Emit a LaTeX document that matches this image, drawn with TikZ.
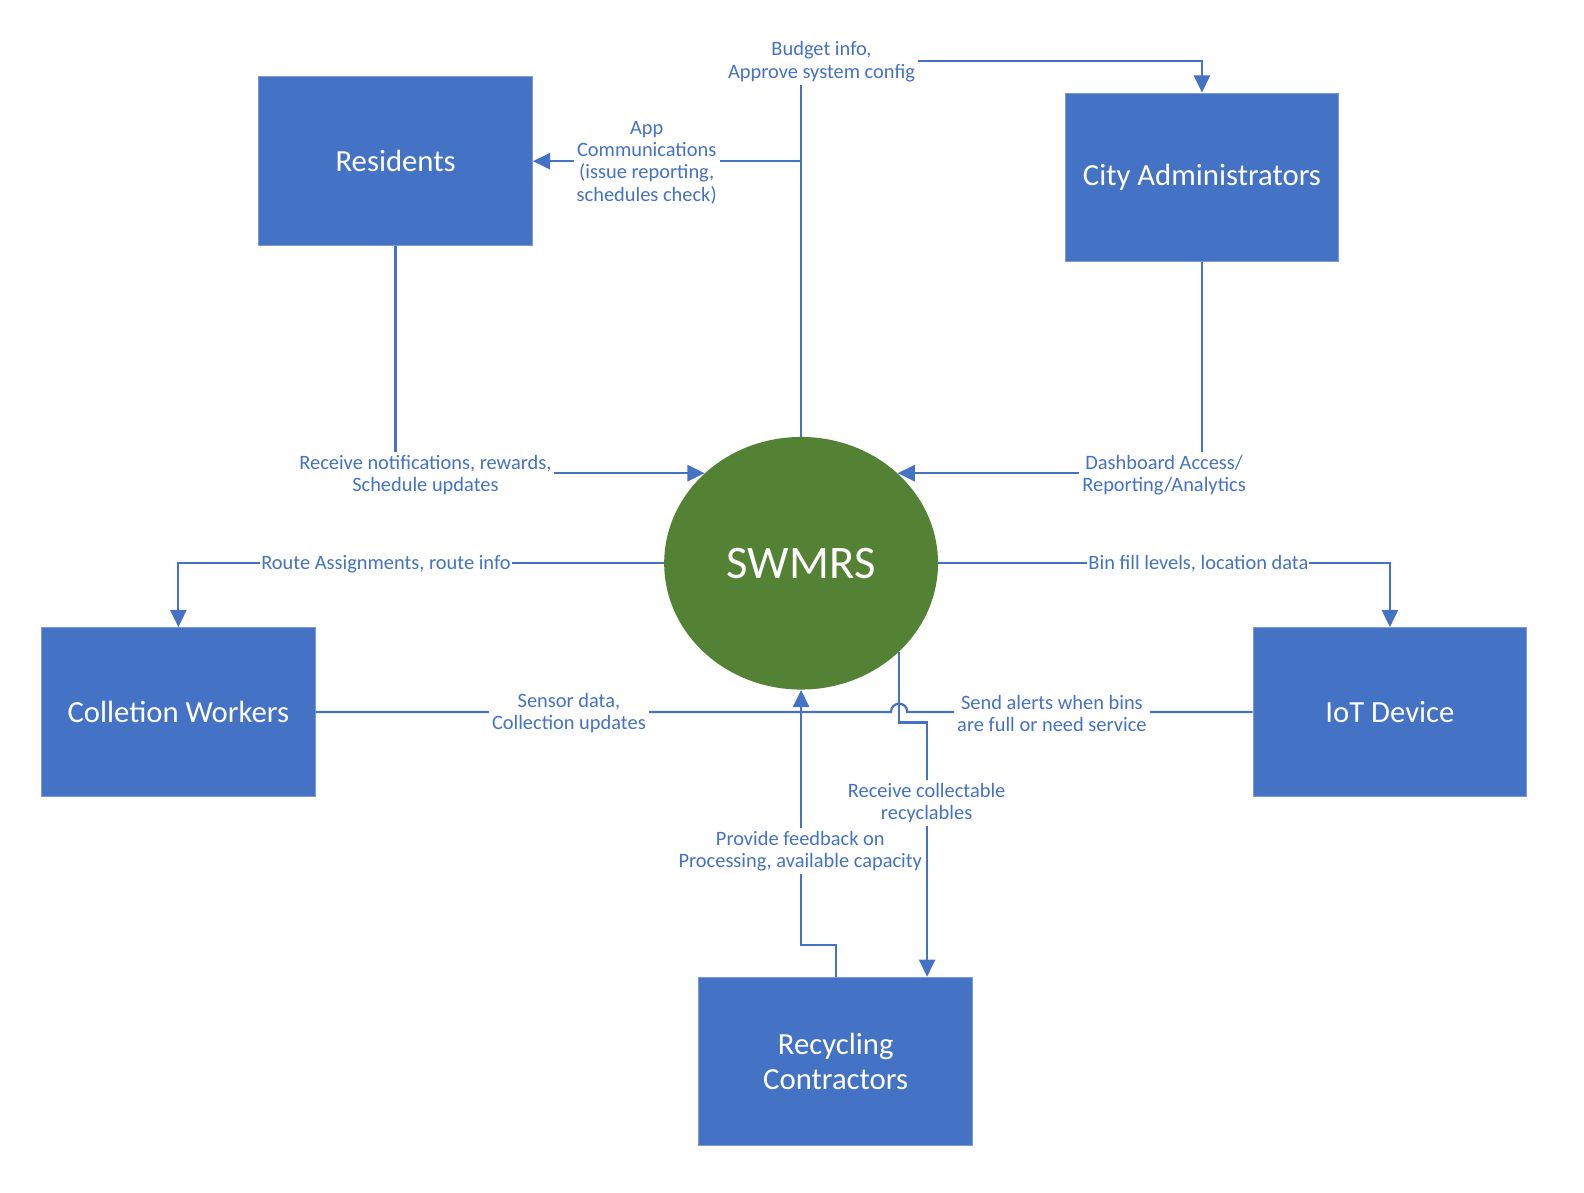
\documentclass[tikz,border=0pt]{standalone}
\usepackage{fontspec}
\setmainfont{Carlito}
\usetikzlibrary{arrows.meta,shapes.geometric}
\definecolor{boxblue}{HTML}{4472C4}
\definecolor{boxedge}{HTML}{7C9BD3}
\definecolor{lineblue}{HTML}{4472C4}
\definecolor{swgreen}{HTML}{548235}
\definecolor{txtblue}{HTML}{4472C4}
\begin{document}
\begin{tikzpicture}[x=0.5pt,y=-0.5pt,
  entity/.style={rectangle, fill=boxblue, draw=boxedge, line width=0.4pt,
    minimum width=135.5pt, minimum height=83.5pt, text=white,
    font=\fontsize{15.2}{17}\selectfont, align=center, inner sep=0pt},
  flow/.style={draw=lineblue, line width=1.1pt},
  arr/.style={-{Triangle[length=8.5pt,width=8pt]}},
  lbl/.style={fill=white, text=txtblue, font=\fontsize{10.1}{11}\selectfont,
    align=center, inner sep=1.5pt}]
\useasboundingbox (0,0) rectangle (1567.6,1179.7);

% entities
\node[entity] (res)  at (391.5,159.5)  {Residents};
\node[entity] (city) at (1189.5,175.5) {City Administrators};
\node[entity] (cw)   at (176.5,704.5)  {Colletion Workers};
\node[entity] (iot)  at (1375.5,704.5) {IoT Device};
\node[entity] (rec)  at (827,1050.5)   {Recycling\\Contractors};
\node[ellipse, fill=swgreen, minimum width=135.5pt, minimum height=125pt,
  inner sep=0pt, text=white, font=\fontsize{23.1}{27}\selectfont] (sw) at (792.8,557.4) {SWMRS};

% helper coordinates
\coordinate (top)  at (792.8,60);
\coordinate (j1)   at (792.8,159.5);
\coordinate (hopL) at (881.8,704.5);
\coordinate (hopR) at (897.8,704.5);
\coordinate (k1)   at (917.5,715);
\coordinate (k2)   at (792.8,935.5);

% connectors
\draw[flow,arr] (sw.north) -- (top) -| (city.north);
\draw[flow,arr] (j1) -- (res.east);
\draw[flow,arr] (res.south) |- (sw.137);
\draw[flow,arr] (city.south) |- (sw.43);
\draw[flow,arr] (sw.west) -| (cw.north);
\draw[flow,arr] (sw.east) -| (iot.north);
\draw[flow] (cw.east) -- (hopL) .. controls (881.8,693.8) and (897.8,693.8) .. (hopR) -- (iot.west);
\draw[flow,arr] (sw.-42) |- (k1) -- (k1 |- rec.north);
\draw[flow,arr] (rec.north) |- (k2) -- (sw.south);

% labels
\node[lbl] (l1) at (813,61)    {Budget info,\\Approve system config};
\node[lbl] (l2) at (640,161)   {App\\Communications\\(issue reporting,\\schedules check)};
\node[lbl] (l3) at (421,470)   {Receive notifications, rewards,\\Schedule updates};
\node[lbl] (l4) at (1152,470)  {Dashboard Access/\\Reporting/Analytics};
\node[lbl, inner sep=0.5pt] (l5) at (382,558)   {Route Assignments, route info};
\node[lbl, inner sep=0.5pt] (l6) at (1186,558)  {Bin fill levels, location data};
\node[lbl] (l7) at (563,706)   {Sensor data,\\Collection updates};
\node[lbl] (l8) at (1041,706)  {Send alerts when bins\\are full or need service};
\node[lbl] (l9) at (917,795)   {Receive collectable\\recyclables};
\node[lbl] (l10) at (792,842)  {Provide feedback on\\Processing, available capacity};
\end{tikzpicture}
\end{document}
